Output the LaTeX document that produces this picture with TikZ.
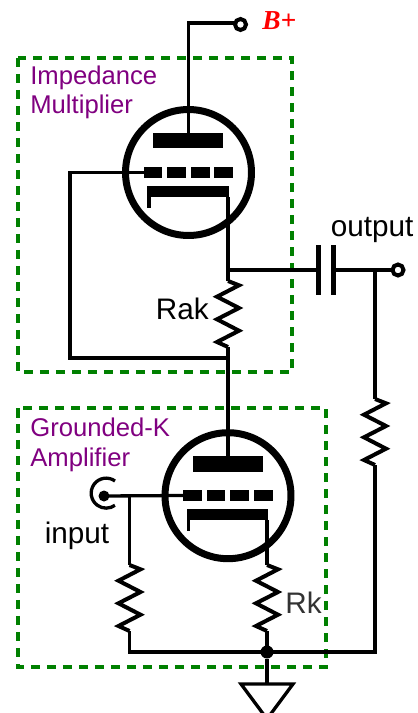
\documentclass[tikz,border=0pt]{standalone}
\usepackage{fontspec}
\setmainfont{Liberation Sans}
\newfontfamily\serifb{Liberation Serif}
\definecolor{boxgreen}{RGB}{0,128,0}
\definecolor{labelpurple}{RGB}{128,0,128}

\begin{document}
\begin{tikzpicture}[x=0.02cm,y=-0.02cm]

\tikzstyle{wire} = [draw=black,line width=0.066cm,line join=miter]
\tikzstyle{zig} = [wire,line width=0.08cm,to path={-- ++(11,4.3) -- ++(-22,11.4)
    -- ++(22,11.3) -- ++(-22,11.3) -- ++(22,11.4) -- ++(-22,11.3) -- (\tikztotarget)}]
\tikzstyle{groupbox} = [draw=boxgreen,line width=0.07cm,dash pattern=on 0.19cm off 0.13cm]
\tikzstyle{tube} = [draw=black,circle,line width=0.14cm,minimum size=2.52cm,
    inner sep=0,outer sep=0]
\tikzstyle{plate} = [fill=black,inner sep=0,outer sep=0,minimum width=1.4cm,
    minimum height=0.31cm]
\tikzstyle{gridbar} = [fill=black,inner sep=0,outer sep=0,minimum width=0.375cm,
    minimum height=0.22cm]
\tikzstyle{cathode} = [fill=black,inner sep=0,outer sep=0,minimum width=1.64cm,
    minimum height=0.226cm]
\tikzstyle{terminal} = [draw=black,fill=white,circle,line width=0.08cm,
    minimum size=0.22cm,inner sep=0,outer sep=0]
\tikzstyle{capbar} = [fill=black,inner sep=0,outer sep=0,minimum width=0.11cm,
    minimum height=1cm]
\tikzstyle{grouptitle} = [anchor=base west,inner sep=0,text=labelpurple,
    font=\fontsize{14.6pt}{17pt}\selectfont]
\tikzstyle{partlabel} = [anchor=base west,inner sep=0,text=black,
    font=\fontsize{16.9pt}{19pt}\selectfont]

\useasboundingbox (0,0) rectangle (418,713);

% =========================
% dashed groups
% =========================
\draw[groupbox] (18,58) rectangle (292,372);
\draw[groupbox] (18,408) rectangle (326,667);

\node[grouptitle] (imp) at (30,84.5) {Impedance};
\node[grouptitle] (mul) at (30,113.5) {Multiplier};
\node[grouptitle] (gro) at (30,436.5) {Grounded-K};
\node[grouptitle] (amp) at (30,466.5) {Amplifier};

% =========================
% upper tube
% =========================
\node[tube] (v1) at (188.5,172.5) {};
\node[plate] (p1) at (188.3,140.5) {};
\node[gridbar] (g11) at (153,172.5) {};
\node[gridbar] (g12) at (176.7,172.5) {};
\node[gridbar] (g13) at (200.3,172.5) {};
\node[gridbar] (g14) at (223.8,172.5) {};
\node[cathode] (k1) at (188.3,191.7) {};
\coordinate (k1l) at (149,197);
\coordinate (k1r) at (228,197);
\draw[wire] (k1l) -- (149,208);

% =========================
% lower tube
% =========================
\node[tube] (v2) at (228,495.7) {};
\node[plate] (p2) at (228,463.8) {};
\node[gridbar] (g21) at (192.3,495.5) {};
\node[gridbar] (g22) at (216,495.5) {};
\node[gridbar] (g23) at (239.6,495.5) {};
\node[gridbar] (g24) at (263.3,495.5) {};
\node[cathode] (k2) at (227.5,514.7) {};
\coordinate (k2l) at (188.4,520);
\coordinate (k2r) at (267,520);
\draw[wire] (k2l) -- (188.4,531);

% =========================
% B+ and output
% =========================
\node[terminal] (bplus) at (240.5,24.5) {};
\node[anchor=base west,inner sep=0,text=red,font=\serifb\bfseries\itshape\fontsize{15.6pt}{18pt}\selectfont] (bl) at (262,30) {B+};
\coordinate (bc) at (188.3,23);
\draw[wire] (p1.north) -- (bc) -- (bc -| bplus.west);

\node[capbar] (c1) at (318.7,270) {};
\node[capbar] (c2) at (333.3,270) {};
\node[terminal] (out) at (398,270) {};
\node[partlabel] (outl) at (330.5,236) {output};
\coordinate (ak) at (228,270);
\coordinate (otap) at (375,270);
\draw[wire] (k1r) -- (ak) -- (c1);
\draw[wire] (c2) -- (out);

% =========================
% resistors
% =========================
\coordinate (rak1) at (228,281);
\coordinate (rak2) at (228,347);
\draw[wire] (ak) -- (rak1);
\draw[zig] (rak1) to (rak2);
\node[partlabel] (rakl) at (155.5,319) {Rak};

\coordinate (ro1) at (375,399);
\coordinate (ro2) at (375,465);
\draw[wire] (otap) -- (ro1);
\draw[zig] (ro1) to (ro2);

\coordinate (rg1) at (129.5,565);
\coordinate (rg2) at (129.5,631);
\draw[zig] (rg1) to (rg2);

\coordinate (rk1) at (267,565);
\coordinate (rk2) at (267,631);
\draw[wire] (k2r) -- (rk1);
\draw[zig] (rk1) to (rk2);
\node[partlabel,text=black!80] (rkl) at (285,613) {Rk};

% =========================
% feedback and plate wires
% =========================
\coordinate (fb1) at (70,172.5);
\coordinate (fb2) at (70,358);
\coordinate (fb3) at (228,358);
\draw[wire] (g11.west) -- (fb1) -- (fb2) -- (fb3);
\draw[wire] (rak2) -- (p2.north);

% =========================
% input
% =========================
\node[circle,fill=black,minimum size=0.22cm,inner sep=0,outer sep=0] (jack) at (104,496) {};
\draw[wire] (115,481) arc[start angle=54,end angle=306,radius=0.3cm];
\node[partlabel] (inl) at (44.5,543) {input};
\coordinate (itap) at (129.5,496);
\draw[wire] (jack.center) -- (g21.west);
\draw[wire] (itap) -- (rg1);

% =========================
% bottom rail and ground
% =========================
\node[circle,fill=black,minimum size=0.26cm,inner sep=0,outer sep=0] (rail) at (267,652) {};
\coordinate (rail1) at (129.5,652);
\coordinate (rail2) at (375,652);
\coordinate (gnd) at (267,684);
\draw[wire] (rg2) -- (rail1) -- (rail2) -- (ro2);
\draw[wire] (rk2) -- (rail);
\draw[wire,line width=0.08cm] (rail) -- (gnd);
\draw[wire] (241,684) -- (293,684) -- (267,719) -- cycle;

\end{tikzpicture}
\end{document}
